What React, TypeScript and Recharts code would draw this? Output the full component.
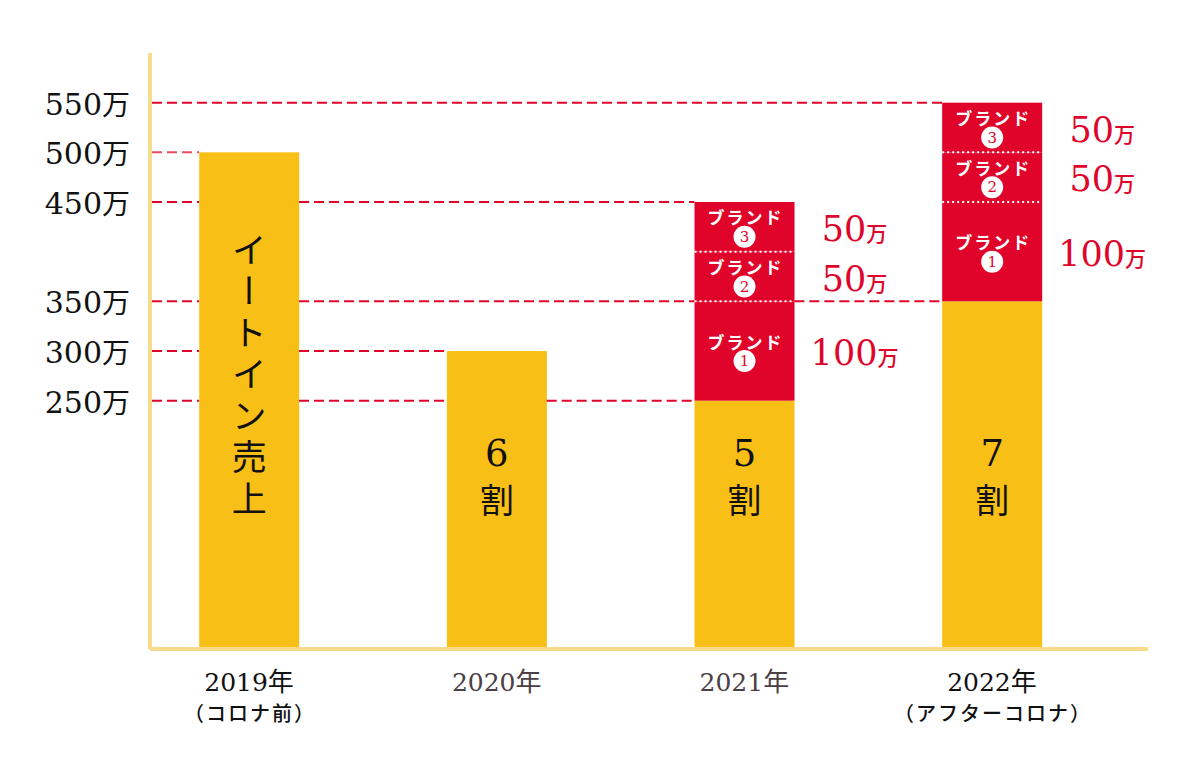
import React from 'react';
import { ComposedChart, Bar, XAxis, YAxis, ReferenceLine, LabelList } from 'recharts';

// ---- data ----
const years = ['2019年', '2020年', '2021年', '2022年'];
const yearNotes = ['（コロナ前）', '', '', '（アフターコロナ）'];
const yearColors = ['#111111', '#4a4045', '#4a4045', '#111111'];
const baseSales = [500, 300, 250, 350];
const brand1 = [0, 0, 100, 100];
const brand2 = [0, 0, 50, 50];
const brand3 = [0, 0, 50, 50];
const baseLabels = ['イートイン売上', '6割', '5割', '7割'];
const yTicks = [250, 300, 350, 450, 500, 550];
// guide lines: value, bar index the dashed line runs to from the axis, optional span between two bars
const guideValues = [550, 500, 450, 350, 300, 250];
const guideRunsTo = [3, 0, 2, 2, 1, 2];
const guideBetween: (number[] | null)[] = [null, null, null, [2, 3], null, null];

// ---- style ----
const W = 1200;
const H = 760;
const YELLOW = '#F8BF16';
const RED = '#E0042B';
const AXIS = '#F6DB8C';
const PINK = '#E94B5E';
const SERIF = "'DejaVu Serif', 'Liberation Serif', serif";
const JP = "'Noto Sans CJK JP', sans-serif";
const X_DOMAIN: [number, number] = [-0.4, 3.63];
const PLOT_LEFT = 150;
const PLOT_RIGHT = 1148;
const BAR_SIZE = 100;
const HALF_BAR = (BAR_SIZE / 2) / ((PLOT_RIGHT - PLOT_LEFT) / (X_DOMAIN[1] - X_DOMAIN[0]));

const totals = baseSales.map((b, i) => b + brand1[i] + brand2[i] + brand3[i]);

const data = years.map((y, i) => ({
  x: i,
  name: y,
  base: baseSales[i],
  b1: brand1[i],
  b2: brand2[i],
  b3: brand3[i],
}));

const YTick = (props: any) => {
  const { x, y, payload } = props;
  return (
    <text x={x} y={y + 12} textAnchor="end" fill="#111">
      <tspan fontFamily={SERIF} fontSize={30}>{payload.value}</tspan>
      <tspan fontFamily={JP} fontSize={28}>万</tspan>
    </text>
  );
};

const XTick = (props: any) => {
  const { x, y, payload } = props;
  const i = Math.round(payload.value);
  if (i < 0 || i >= years.length) return null;
  const label = years[i];
  const num = label.replace('年', '');
  return (
    <g>
      <text x={x} y={y + 34} textAnchor="middle" fill={yearColors[i]}>
        <tspan fontFamily={SERIF} fontSize={25}>{num}</tspan>
        <tspan fontFamily={JP} fontSize={26}>年</tspan>
      </text>
      {yearNotes[i] ? (
        <text x={x + 1} y={y + 64} textAnchor="middle" fill={yearColors[i]} fontFamily={JP} fontSize={20} fontWeight={500} letterSpacing={2}>
          {yearNotes[i]}
        </text>
      ) : null}
    </g>
  );
};

const BaseLabel = (props: any) => {
  const { x, y, width, height, index } = props;
  const cx = x + width / 2;
  const bottom = y + height;
  const text = baseLabels[index];
  if (!text) return null;
  const chars = Array.from(text);
  if (chars.length > 2) {
    // vertical writing, centred on the column
    return (
      <text
        x={cx}
        y={bottom - 272}
        textAnchor="middle"
        fontFamily={JP}
        fontSize={35}
        fill="#111"
        letterSpacing={6.5}
        style={{ writingMode: 'vertical-rl' } as any}
      >
        {text}
      </text>
    );
  }
  return (
    <g>
      <text x={cx} y={bottom - 183} textAnchor="middle" fontFamily={SERIF} fontSize={37} fill="#111">
        {chars[0]}
      </text>
      <text x={cx} y={bottom - 136} textAnchor="middle" fontFamily={JP} fontSize={34} fill="#111">
        {chars[1]}
      </text>
    </g>
  );
};

const makeBrandLabel = (brandNo: number) => (props: any) => {
  const { x, y, width, height, value } = props;
  if (!value) return null;
  const cx = x + width / 2;
  const mid = y + height / 2;
  return (
    <g>
      <text x={cx + 1} y={mid - 10} textAnchor="middle" dominantBaseline="central" fill="#fff" fontFamily={JP} fontWeight={700} fontSize={17} letterSpacing={2}>
        ブランド
      </text>
      <circle cx={cx} cy={mid + 10} r={11} fill="#fff" />
      <text x={cx} y={mid + 10} textAnchor="middle" dominantBaseline="central" fill={RED} fontFamily={SERIF} fontSize={15}>
        {brandNo}
      </text>
      <text x={cx + 110} y={mid + 14} textAnchor="middle" fill={RED}>
        <tspan fontFamily={SERIF} fontSize={35}>{value}</tspan>
        <tspan fontFamily={JP} fontSize={21} fontWeight={500}>万</tspan>
      </text>
    </g>
  );
};

const RedShape = (withSeparator: boolean) => (props: any) => {
  const { x, y, width, height } = props;
  if (!height || height <= 0) return null;
  return (
    <g>
      <rect x={x} y={y} width={width} height={height} fill={RED} />
      {withSeparator ? (
        <line x1={x} x2={x + width} y1={y + height} y2={y + height} stroke="#fff" strokeWidth={2} strokeDasharray="2 3" />
      ) : null}
    </g>
  );
};

const YellowShape = (props: any) => {
  const { x, y, width, height } = props;
  if (!height || height <= 0) return null;
  return <rect x={x} y={y} width={width} height={height} fill={YELLOW} />;
};

// split a guide line so that it passes behind (is hidden by) bars that are taller than it
const splitSpan = (v: number, from: number, to: number): [number, number][] => {
  const spans: [number, number][] = [];
  let start = from;
  for (let j = 0; j < totals.length; j++) {
    const left = j - HALF_BAR;
    const right = j + HALF_BAR;
    if (left >= start && right <= to && totals[j] >= v) {
      if (left > start) spans.push([start, left]);
      start = right;
    }
  }
  if (to > start) spans.push([start, to]);
  return spans;
};

export default function App() {
  const guides: React.ReactNode[] = [];
  guideValues.forEach((v, i) => {
    const color = v === 500 ? PINK : RED;
    const spans = splitSpan(v, X_DOMAIN[0] + 0.008, guideRunsTo[i] - HALF_BAR);
    const b = guideBetween[i];
    if (b) spans.push([b[0] + HALF_BAR, b[1] - HALF_BAR]);
    spans.forEach((s, k) => {
      guides.push(
        <ReferenceLine
          key={`g${i}-${k}`}
          segment={[{ x: s[0], y: v }, { x: s[1], y: v }]}
          stroke={color}
          strokeWidth={2}
          strokeDasharray="10 5"
        />
      );
    });
  });

  return (
    <div style={{ position: 'absolute', left: 0, top: 0, width: W, height: H, background: '#fff' }}>
      <ComposedChart width={W} height={H} data={data} margin={{ top: 53, right: W - PLOT_RIGHT, bottom: 0, left: 8 }}>
        <XAxis
          dataKey="x"
          type="number"
          domain={X_DOMAIN}
          ticks={[0, 1, 2, 3]}
          allowDataOverflow
          height={111}
          axisLine={{ stroke: AXIS, strokeWidth: 4 }}
          tickLine={false}
          tick={<XTick />}
          interval={0}
        />
        <YAxis
          type="number"
          domain={[0, 600]}
          ticks={yTicks}
          width={PLOT_LEFT - 8}
          axisLine={{ stroke: AXIS, strokeWidth: 4 }}
          tickLine={false}
          tickMargin={14}
          tick={<YTick />}
          interval={0}
        />
        {guides}
        <Bar dataKey="base" stackId="s" barSize={BAR_SIZE} fill={YELLOW} shape={YellowShape} isAnimationActive={false}>
          <LabelList dataKey="base" content={BaseLabel} />
        </Bar>
        <Bar dataKey="b1" stackId="s" barSize={BAR_SIZE} fill={RED} shape={RedShape(false)} isAnimationActive={false}>
          <LabelList dataKey="b1" content={makeBrandLabel(1)} />
        </Bar>
        <Bar dataKey="b2" stackId="s" barSize={BAR_SIZE} fill={RED} shape={RedShape(true)} isAnimationActive={false}>
          <LabelList dataKey="b2" content={makeBrandLabel(2)} />
        </Bar>
        <Bar dataKey="b3" stackId="s" barSize={BAR_SIZE} fill={RED} shape={RedShape(true)} isAnimationActive={false}>
          <LabelList dataKey="b3" content={makeBrandLabel(3)} />
        </Bar>
      </ComposedChart>
    </div>
  );
}
